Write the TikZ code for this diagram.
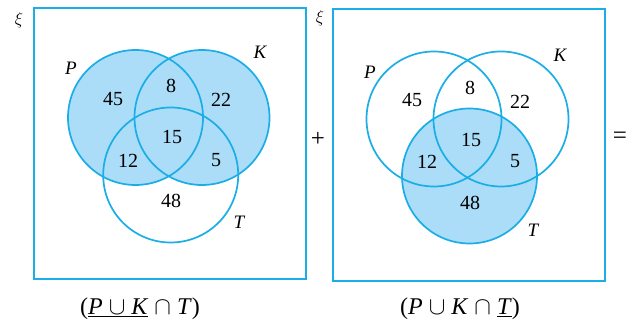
\documentclass[tikz,border=0pt]{standalone}
\usepackage{fontspec}
\setmainfont{Liberation Serif}
\usetikzlibrary{positioning}
\definecolor{vennline}{RGB}{27,174,230}
\definecolor{vennfill}{RGB}{171,221,248}

\begin{document}
\begin{tikzpicture}[x=1pt,y=1pt,
  setline/.style={draw=vennline, line width=1.7pt},
  num/.style={font=\fontsize{20}{22}\selectfont},
  lbl/.style={font=\fontsize{19}{21}\selectfont\itshape},
  caption/.style={font=\fontsize{24}{26}\selectfont},
  oper/.style={font=\fontsize{25}{27}\selectfont},
  univ/.style={font=\fontsize{19}{21}\selectfont}]
  \useasboundingbox (0,0) rectangle (636,329);
  \def\r{67.5}

  % Primer diagrama: P union K sombreado
  \fill[vennfill] (135.5,211.5) circle (\r);
  \fill[vennfill] (202,211.5) circle (\r);
  \draw[setline] (34,321) rectangle (306,50);
  \draw[setline] (135.5,211.5) circle (\r);
  \draw[setline] (202,211.5) circle (\r);
  \draw[setline] (170.7,154) circle (\r);

  % Etiquetamos el primer diagrama
  \node[univ] (xiA) at (19,309) {$\xi$};
  \node[lbl] (pA) at (71,261) {P};
  \node[lbl] (kA) at (260,277) {K};
  \node[lbl] (tA) at (239,107) {T};
  \node[num] (aA) at (113,230) {45};
  \node[num] (bA) at (171,243) {8};
  \node[num] (cA) at (221,229) {22};
  \node[num] (dA) at (172,192) {15};
  \node[num] (eA) at (128,168) {12};
  \node[num] (fA) at (216,169) {5};
  \node[num] (gA) at (171,128) {48};
  \node[caption] (capA) at (140,20) {(\underline{\textit{P} $\cup$ \textit{K}} $\cap$ \textit{T})};

  \node[oper] (plus) at (318,190) {+};

  % Segundo diagrama: T sombreado
  \fill[vennfill] (469.5,153) circle (\r);
  \draw[setline] (333,320) rectangle (605,48);
  \draw[setline] (434,210) circle (\r);
  \draw[setline] (501,210) circle (\r);
  \draw[setline] (469.5,153) circle (\r);

  % Etiquetamos el segundo diagrama
  \node[univ] (xiB) at (320,311) {$\xi$};
  \node[lbl] (pB) at (370,257) {P};
  \node[lbl] (kB) at (560,274) {K};
  \node[lbl] (tB) at (533,99) {T};
  \node[num] (aB) at (412,229) {45};
  \node[num] (bB) at (470,241) {8};
  \node[num] (cB) at (520,227) {22};
  \node[num] (dB) at (471,189) {15};
  \node[num] (eB) at (427,167) {12};
  \node[num] (fB) at (515,168) {5};
  \node[num] (gB) at (470,126) {48};
  \node[caption] (capB) at (460,20) {(\textit{P} $\cup$ \textit{K} $\cap$ \underline{\textit{T}})};

  \node[oper] (equal) at (620,191) {=};
\end{tikzpicture}
\end{document}
